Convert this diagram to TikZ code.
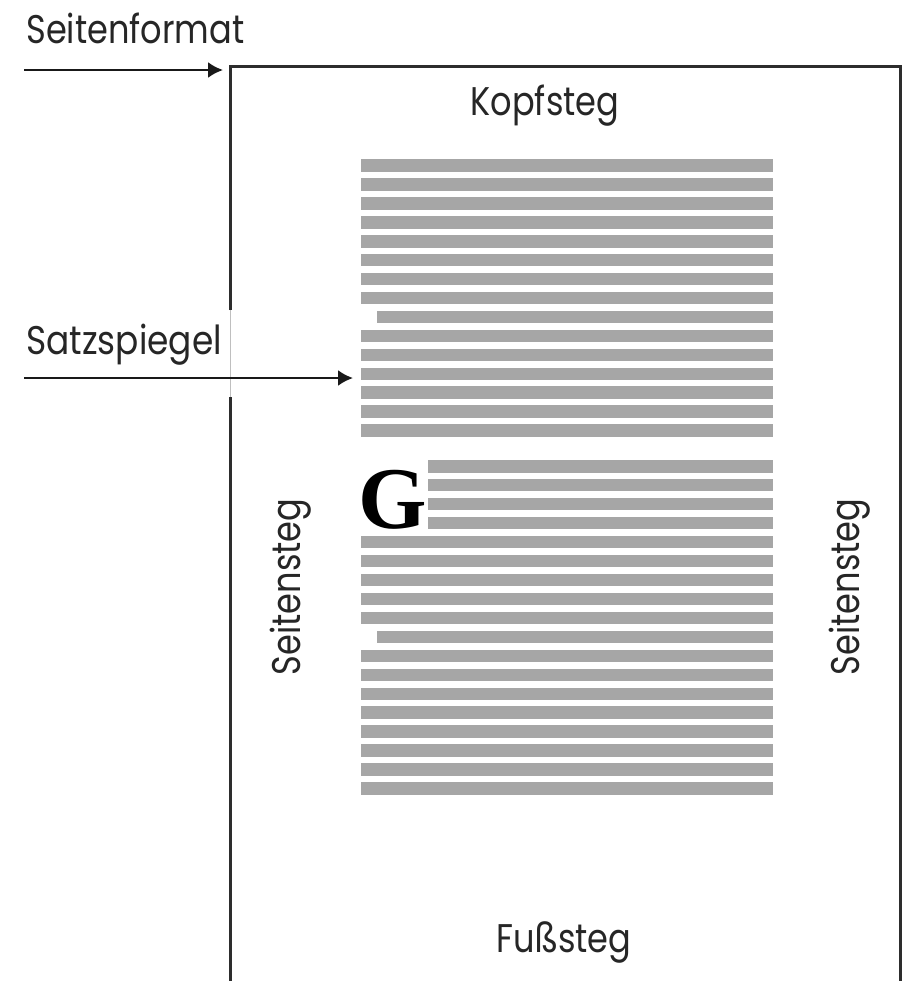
\documentclass[tikz,border=0pt]{standalone}
\usepackage{fontspec}
\newfontfamily\labfont{Poppins}
\newfontfamily\gfont{Liberation Serif}
\usetikzlibrary{arrows.meta}
\definecolor{bargray}{RGB}{166,166,166}
\definecolor{edgegray}{RGB}{45,45,45}
\tikzset{
  x=0.5pt, y=-0.5pt,
  lab/.style={inner sep=0pt, font=\labfont\fontsize{20}{24}\selectfont, text=black!85},
  pageedge/.style={draw=edgegray, line width=1.5pt},
  pointer/.style={draw=black!90, line width=1.2pt, -{Latex[length=7.5pt,width=8pt]}},
  textbar/.style={fill=bargray},
}
\begin{document}
\begin{tikzpicture}
\useasboundingbox (0,0) rectangle (904,981);
% page format
\coordinate (corner) at (230,66.5);
\coordinate (topright) at (900,66.5);
\coordinate (bottomright) at (900,981);
\coordinate (gapTop) at (230,310);
\coordinate (gapBot) at (230,397);
\coordinate (bottomleft) at (230,981);
\draw[pageedge] (gapTop) -- (corner) -- (topright) -- (bottomright);
\draw[pageedge] (gapBot) -- (bottomleft);
\draw[black!25, line width=0.4pt] (gapTop) -- (gapBot);
% text block 1
\foreach \i in {0,...,14}{
  \pgfmathsetmacro{\yt}{159.3+18.93*\i}
  \ifnum\i=8
    \fill[textbar] (377.3,\yt) rectangle (773,\yt+12.5);
  \else
    \fill[textbar] (360.7,\yt) rectangle (773,\yt+12.5);
  \fi
}
% text block 2
\foreach \i in {0,...,17}{
  \pgfmathsetmacro{\yt}{460+18.96*\i}
  \ifnum\i<4
    \fill[textbar] (427.7,\yt) rectangle (773,\yt+12.5);
  \else\ifnum\i=9
    \fill[textbar] (377.3,\yt) rectangle (773,\yt+12.5);
  \else
    \fill[textbar] (360.7,\yt) rectangle (773,\yt+12.5);
  \fi\fi
}
\node[inner sep=0pt, anchor=base west, font=\gfont\bfseries\fontsize{44}{48}\selectfont] (initial) at (358,528) {G};
% labels
\node[lab, anchor=base west, xscale=0.84] (seitenformat) at (26,43) {Seitenformat};
\node[lab, anchor=base west, xscale=0.86] (satzspiegel) at (26,354) {Satzspiegel};
\node[lab, anchor=base, xscale=0.84] (kopfsteg) at (545,115) {Kopfsteg};
\node[lab, anchor=base, xscale=0.84] (fusssteg) at (564,952) {Fußsteg};
\node[lab, anchor=base, rotate=90, xscale=0.84] (seitenstegL) at (300,587) {Seitensteg};
\node[lab, anchor=base, rotate=90, xscale=0.84] (seitenstegR) at (859,587) {Seitensteg};
% arrows
\coordinate (a1start) at (24,70);
\coordinate (a1end) at (223,70);
\coordinate (a2start) at (24,378);
\coordinate (a2end) at (353,378);
\draw[pointer] (a1start) -- (a1end);
\draw[pointer] (a2start) -- (a2end);
\end{tikzpicture}
\end{document}
